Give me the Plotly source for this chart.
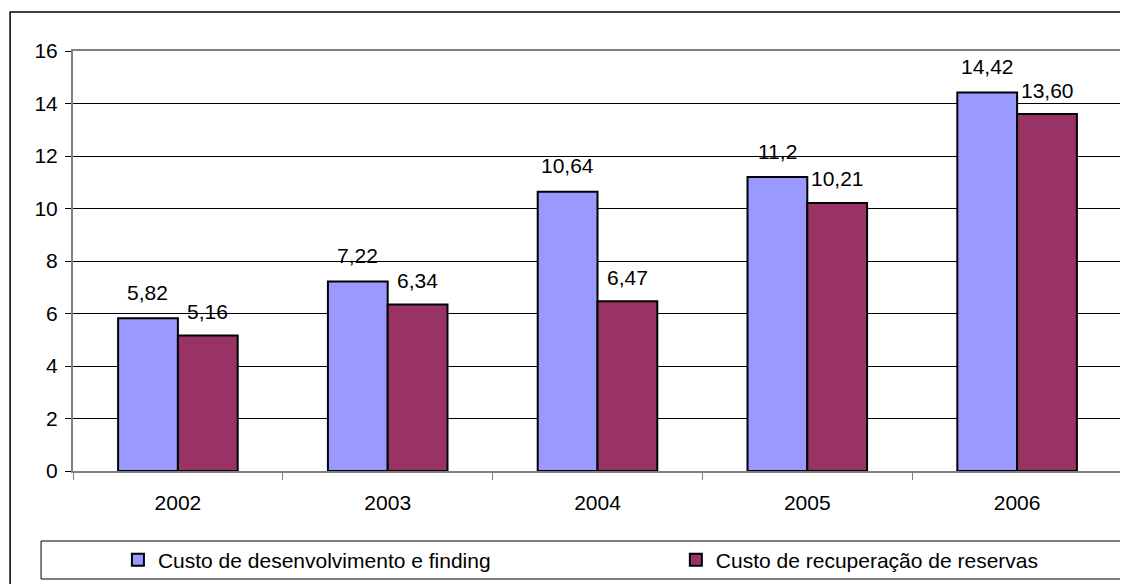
import plotly.graph_objects as go

years = ["2002", "2003", "2004", "2005", "2006"]
desenvolvimento = [5.82, 7.22, 10.64, 11.2, 14.42]
recuperacao = [5.16, 6.34, 6.47, 10.21, 13.60]
labels_desenv = ["5,82", "7,22", "10,64", "11,2", "14,42"]
labels_recup = ["5,16", "6,34", "6,47", "10,21", "13,60"]
series_names = ["Custo de desenvolvimento e finding", "Custo de recuperação de reservas"]

FONT = "Liberation Sans, Arial, sans-serif"
FS = 21

OFF = 8  # page body margin
W, H = 1128 - OFF, 584 - OFF
L, T = 73 - OFF, 51 - OFF
R = W - (1124 - OFF)
B = H - (471 - OFF)
pw, ph = W - L - R, H - T - B

def px(sx):
    return (sx - OFF - L) / pw

def py(sy):
    return (H - B - (sy - OFF)) / ph

fig = go.Figure()
fig.add_trace(go.Bar(x=years, y=desenvolvimento, name=series_names[0], legend="legend",
                     marker=dict(color="#9999FF", line=dict(color="black", width=2))))
fig.add_trace(go.Bar(x=years, y=recuperacao, name=series_names[1], legend="legend2",
                     marker=dict(color="#993366", line=dict(color="black", width=2))))

annotations = []
for i, (v, t) in enumerate(zip(desenvolvimento, labels_desenv)):
    annotations.append(dict(x=i, y=v, text=t, xref="x", yref="y", showarrow=False,
                            xshift=-30, yshift=26, yanchor="middle",
                            font=dict(family=FONT, size=FS, color="black")))
for i, (v, t) in enumerate(zip(recuperacao, labels_recup)):
    annotations.append(dict(x=i, y=v, text=t, xref="x", yref="y", showarrow=False,
                            xshift=30, yshift=24, yanchor="middle",
                            font=dict(family=FONT, size=FS, color="black")))

shapes = [
    dict(type="rect", xref="paper", yref="paper", x0=px(10), x1=px(1140), y0=py(595), y1=py(12),
         line=dict(color="black", width=1.5), layer="below"),
    dict(type="rect", xref="paper", yref="paper", x0=px(41), x1=px(1145), y0=py(579), y1=py(541),
         line=dict(color="black", width=1), layer="below"),
]

leg_common = dict(orientation="h", xanchor="left", yanchor="middle", y=py(560),
                  font=dict(family=FONT, size=FS, color="black"),
                  bgcolor="rgba(0,0,0,0)", borderwidth=0)

fig.update_layout(
    width=W, height=H,
    margin=dict(l=L, r=R, t=T, b=B),
    paper_bgcolor="white", plot_bgcolor="white",
    barmode="group", bargap=0.43, bargroupgap=0,
    font=dict(family=FONT, size=FS, color="black"),
    showlegend=True,
    legend=dict(x=px(118), **leg_common),
    legend2=dict(x=px(677), **leg_common),
    annotations=annotations,
    shapes=shapes,
)
fig.update_xaxes(type="category", showline=True, linecolor="#808080", linewidth=2, mirror=True,
                 ticks="outside", tickson="boundaries", ticklen=7, tickcolor="#808080", tickwidth=1,
                 ticklabelstandoff=12, showgrid=False, tickangle=0,
                 tickfont=dict(family=FONT, size=FS, color="black"))
fig.update_yaxes(range=[0, 16], dtick=2, showline=True, linecolor="#808080", linewidth=2, mirror=True,
                 ticks="outside", ticklen=6, tickcolor="black", tickwidth=1,
                 showgrid=True, gridcolor="black", gridwidth=1, zeroline=False,
                 ticklabelstandoff=3,
                 tickfont=dict(family=FONT, size=FS, color="black"))

fig.write_html("out.html")
